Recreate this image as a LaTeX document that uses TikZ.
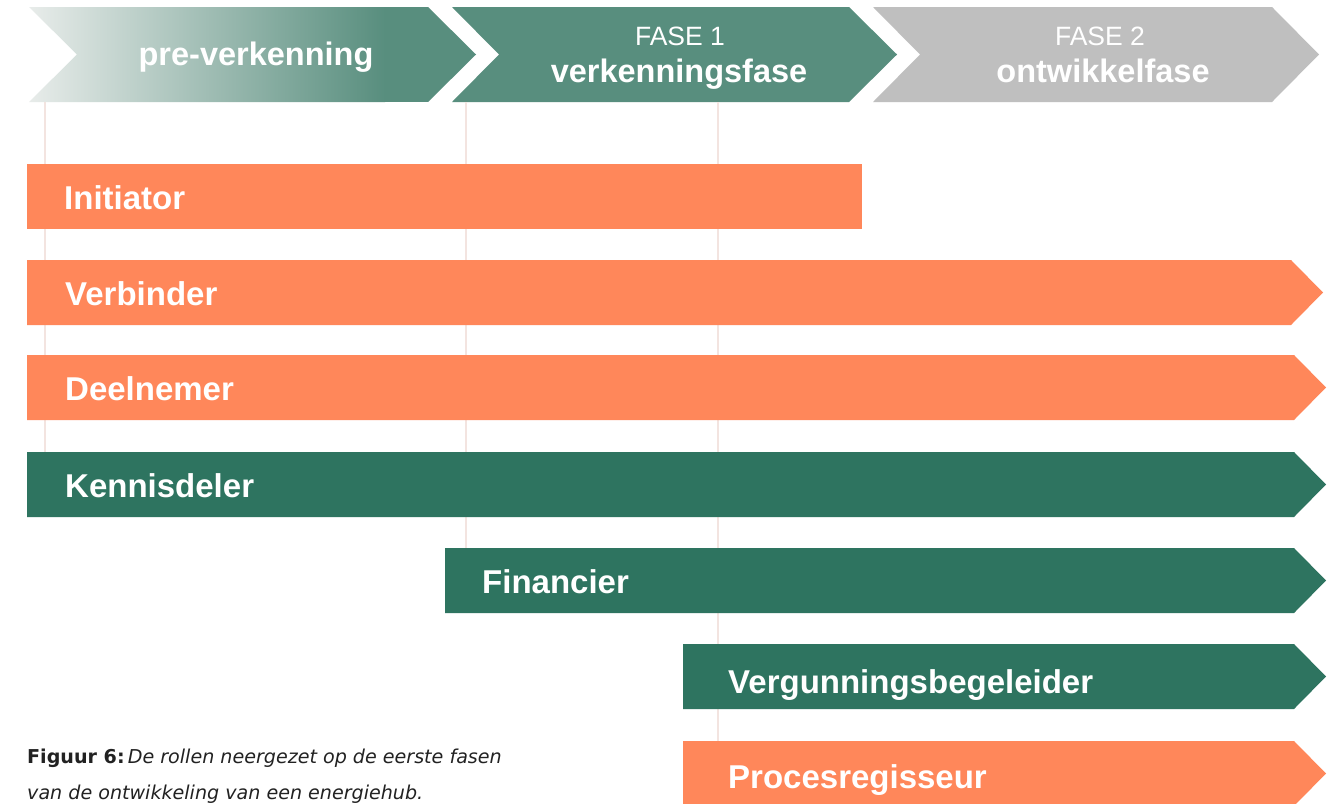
\documentclass[tikz,border=0pt]{standalone}
\usepackage{fontspec}
\setmainfont{Liberation Sans}
\newfontfamily\capfont{DejaVu Sans}
\definecolor{orangebar}{HTML}{FF875A}
\definecolor{greenbar}{HTML}{2E7460}
\definecolor{headgreen}{HTML}{588E7E}
\definecolor{headlight}{HTML}{E8ECEA}
\definecolor{headgray}{HTML}{BFBFBF}
\definecolor{gridline}{HTML}{F3E4E0}
\definecolor{captext}{HTML}{222222}
\begin{document}
\begin{tikzpicture}[x=1pt,y=-1pt,
  barlabel/.style={anchor=base west, text=white, inner sep=0pt, font=\fontsize{33}{33}\selectfont\bfseries},
  headbold/.style={anchor=base, text=white, inner sep=0pt, font=\fontsize{32.5}{33}\selectfont\bfseries},
  headreg/.style={anchor=base, text=white, inner sep=0pt, font=\fontsize{26.5}{27}\selectfont},
  gridstyle/.style={draw=gridline, line width=2.5pt},
  captionstyle/.style={anchor=base west, text=captext, inner sep=0pt, font=\capfont\fontsize{19.1}{20}\selectfont}
]
\useasboundingbox (0,0) rectangle (1335,803);
\fill[white] (0,0) rectangle (1335,803);

% header chevrons
\begin{scope}
  \clip (29,7) -- (428,7) -- (476,54.5) -- (428,102) -- (29,102) -- (77,54.5) -- cycle;
  \shade[left color=headlight, right color=headgreen] (29,7) rectangle (385,102);
  \fill[headgreen] (384,7) rectangle (480,102);
\end{scope}
\fill[headgreen] (452,7) -- (849,7) -- (897,54.5) -- (849,102) -- (452,102) -- (499,54.5) -- cycle;
\fill[headgray] (873,7) -- (1272,7) -- (1319,54.5) -- (1272,102) -- (873,102) -- (920,54.5) -- cycle;

\node[headbold] (pre) at (256,65) {pre-verkenning};
\node[headreg] (f1) at (680,45) {FASE 1};
\node[headbold] (f1b) at (679,82) {verkenningsfase};
\node[headreg] (f2) at (1100,45) {FASE 2};
\node[headbold] (f2b) at (1103,82) {ontwikkelfase};

% grid lines
\draw[gridstyle] (45,102) -- (45,452);
\draw[gridstyle] (466,102) -- (466,548);
\draw[gridstyle] (718,102) -- (718,803);

% bars
\fill[orangebar] (27,164) rectangle (862,229);
\fill[orangebar] (27,260) -- (1291,260) -- (1323,292.5) -- (1291,325) -- (27,325) -- cycle;
\fill[orangebar] (27,355) -- (1294,355) -- (1326,387.5) -- (1294,420) -- (27,420) -- cycle;
\fill[greenbar] (27,452) -- (1294,452) -- (1326,484.5) -- (1294,517) -- (27,517) -- cycle;
\fill[greenbar] (445,548) -- (1294,548) -- (1326,580.5) -- (1294,613) -- (445,613) -- cycle;
\fill[greenbar] (683,644) -- (1294,644) -- (1326,676.5) -- (1294,709) -- (683,709) -- cycle;
\fill[orangebar] (683,741) -- (1294,741) -- (1326,773.5) -- (1294,806) -- (683,806) -- cycle;

\node[barlabel] (initiator) at (64,209) {Initiator};
\node[barlabel] (verbinder) at (65,305) {Verbinder};
\node[barlabel] (deelnemer) at (65,400) {Deelnemer};
\node[barlabel] (kennisdeler) at (65,497) {Kennisdeler};
\node[barlabel] (financier) at (482,593) {Financier};
\node[barlabel] (vergunning) at (728,693) {Vergunningsbegeleider};
\node[barlabel] (proces) at (728,788) {Procesregisseur};

% caption
\node[captionstyle] (cap1) at (27,763) {\textbf{Figuur 6:}\,\textit{De rollen neergezet op de eerste fasen}};
\node[captionstyle] (cap2) at (27,799) {\textit{van de ontwikkeling van een energiehub.}};
\end{tikzpicture}
\end{document}
